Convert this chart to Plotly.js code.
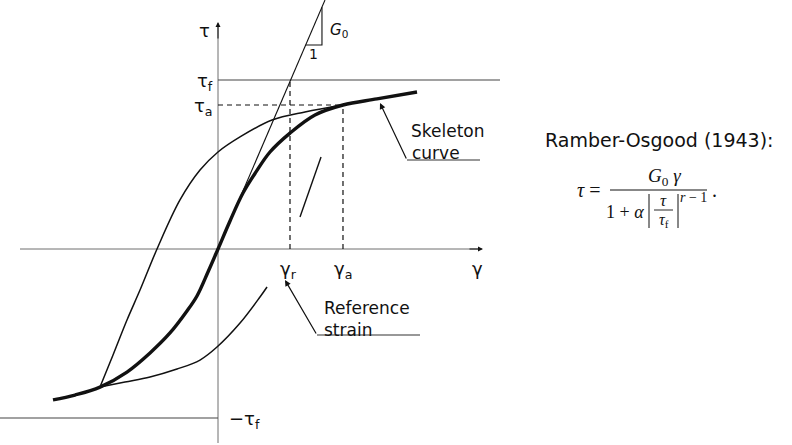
<!DOCTYPE html>
<html><head><meta charset="utf-8">
<script src="https://cdn.plot.ly/plotly-3.0.1.min.js"></script>
<style>html,body{margin:0;padding:0;background:#fff;}#chart{width:792px;height:445px;}</style>
</head><body><div id="chart"></div>
<script>
// Values in normalised units: strain in units of the reference strain, stress in units of tau_f
const gammaR = 1.0, gammaA = 1.736, tauF = 1.0, tauA = 0.852;

// Skeleton (backbone) curve
const skeletonGamma = [-2.292,-1.986,-1.639,-1.264,-0.944,-0.667,-0.431,-0.292,-0.139,0,0.167,0.347,0.528,0.722,1.0,1.347,1.736,2.208,2.764];
const skeletonTau   = [-0.893,-0.864,-0.817,-0.728,-0.615,-0.497,-0.367,-0.278,-0.136,0,0.166,0.331,0.456,0.574,0.686,0.793,0.852,0.888,0.929];

// Unloading branch (from gamma_a down to the negative tip)
const upperGamma = [1.736,1.208,0.75,0.306,0,-0.25,-0.528,-0.847,-1.083,-1.264,-1.458,-1.639];
const upperTau   = [0.852,0.811,0.763,0.663,0.574,0.467,0.290,0,-0.243,-0.420,-0.627,-0.817];

// Reloading branch (from the negative tip, drawn partially)
const lowerGamma = [-1.639,-1.292,-0.944,-0.569,-0.25,-0.014,0.306,0.583,0.681];
const lowerTau   = [-0.817,-0.787,-0.757,-0.710,-0.657,-0.580,-0.438,-0.284,-0.225];

// Initial tangent modulus G0 line and its slope triangle
const g0Gamma = [0, 1.486];
const g0Tau   = [0, 1.473];
const triGamma = [1.218, 1.444, 1.444];
const triTau   = [1.207, 1.207, 1.431];

// short direction stroke on reloading path
const strokeGamma = [1.139, 1.431];
const strokeTau   = [0.189, 0.544];

// pixel -> data helpers for layout placement
const W=792,H=445,X0=218,Y0=249,SX=72,SY=169;
const gx = px => (px-X0)/SX;
const ty = py => (Y0-py)/SY;
const xRange=[gx(0),gx(W)], yRange=[ty(H),ty(0)];

const BLK='#111', GRY='#6f6f6f';
function line(x,y,opt){return Object.assign({type:'scatter',mode:'lines',x:x,y:y,hoverinfo:'skip',
  line:{color:BLK,width:1.3}},opt||{});}

const traces = [
  // axes
  line([0,0],[ty(443),ty(26)],{line:{color:GRY,width:1}}),
  line([gx(20),gx(478)],[0,0],{line:{color:GRY,width:1}}),
  // tau_f and -tau_f lines
  line([0,gx(500)],[tauF,tauF],{line:{color:'#444',width:1.2}}),
  line([gx(0),0],[-tauF,-tauF],{line:{color:'#444',width:1.2}}),
  // dashed guides
  line([0,gammaA],[tauA,tauA],{line:{color:BLK,width:1.2,dash:'5px,4px'}}),
  line([gammaA,gammaA],[0,tauA],{line:{color:BLK,width:1.2,dash:'5px,4px'}}),
  line([gammaR,gammaR],[0,tauF],{line:{color:BLK,width:1.2,dash:'5px,4px'}}),
  // G0 line + triangle
  line(g0Gamma,g0Tau,{line:{color:BLK,width:1.1}}),
  line(triGamma,triTau,{line:{color:BLK,width:1.1}}),
  // branches
  line(upperGamma,upperTau,{line:{color:BLK,width:1.5,shape:'spline',smoothing:1}}),
  line(lowerGamma,lowerTau,{line:{color:BLK,width:1.5,shape:'spline',smoothing:1}}),
  line(skeletonGamma,skeletonTau,{line:{color:BLK,width:3.4,shape:'spline',smoothing:1}}),
  line(strokeGamma,strokeTau,{line:{color:BLK,width:1.4}}),
  // label underlines
  line([gx(407),gx(480)],[ty(160),ty(160)],{line:{color:'#333',width:1.2}}),
  line([gx(317),gx(420)],[ty(335),ty(335)],{line:{color:'#333',width:1.2}})
];

const SANS='DejaVu Sans', SERIF='Liberation Serif';
function lab(text,px,py,size,anchor,font,extra){
  return Object.assign({text:text,x:gx(px),y:ty(py),xref:'x',yref:'y',showarrow:false,borderpad:0,
    xanchor:anchor||'center',yanchor:'middle',font:{family:font||SANS,size:size||17,color:BLK}},extra||{});
}
function arrow(hx,hy,tx,tyy,w){
  return {x:gx(hx),y:ty(hy),ax:gx(tx),ay:ty(tyy),xref:'x',yref:'y',axref:'x',ayref:'y',text:'',
    showarrow:true,arrowhead:2,arrowsize:1,arrowwidth:w||1.1,arrowcolor:BLK,standoff:0,startstandoff:0};
}

const annotations = [
  arrow(218,22,218,40,1),
  arrow(483,249,468,249,1),
  arrow(380,103,407,160,1.2),
  arrow(285,280,317,335,1.2),
  lab('τ',204,30,18),
  lab('τ<sub>f</sub>',214,82,18,'right'),
  lab('τ<sub>a</sub>',214,107,18,'right'),
  lab('γ<sub>r</sub>',288,270,18),
  lab('γ<sub>a</sub>',343,270,18),
  lab('γ',477,268,18),
  lab('−τ<sub>f</sub>',228,420,18,'left'),
  lab('<i>G</i><sub>0</sub>',329,30,15,'left'),
  lab('1',313,54,14),
  lab('Skeleton',410,131,17,'left'),
  lab('curve',411,153,17,'left'),
  lab('Reference',323,308,17,'left'),
  lab('strain',323,330,17,'left'),
  lab('Ramber-Osgood (1943):',544,140,19,'left'),
  // formula
  lab('<i>τ</i> =',588,190,20,'center',SERIF),
  lab('<i>G</i><sub>0</sub> <i>γ</i>',664,177,19,'center',SERIF),
  lab('1 + <i>α</i>',645,212,18,'right',SERIF),
  lab('<i>τ</i>',663,200,17,'center',SERIF),
  lab('<i>τ</i><sub>f</sub>',664,220,16,'center',SERIF),
  lab('<i>r</i> − 1',693,197,14,'center',SERIF),
  lab('.',714,190,20,'center',SERIF)
];

const shapes = [
  {type:'line',xref:'x',yref:'y',x0:gx(610),x1:gx(707),y0:ty(190),y1:ty(190),line:{color:BLK,width:1}},
  {type:'line',xref:'x',yref:'y',x0:gx(654),x1:gx(673),y0:ty(210),y1:ty(210),line:{color:BLK,width:0.9}},
  {type:'line',xref:'x',yref:'y',x0:gx(649),x1:gx(649),y0:ty(194),y1:ty(228),line:{color:BLK,width:1}},
  {type:'line',xref:'x',yref:'y',x0:gx(678),x1:gx(678),y0:ty(194),y1:ty(228),line:{color:BLK,width:1}}
];

const layout = {
  width:W,height:H,margin:{l:0,r:0,t:0,b:0},showlegend:false,
  paper_bgcolor:'#fff',plot_bgcolor:'#fff',
  xaxis:{range:xRange,visible:false,fixedrange:true},
  yaxis:{range:yRange,visible:false,fixedrange:true},
  annotations:annotations,shapes:shapes
};
Plotly.newPlot('chart',traces,layout,{staticPlot:true,displayModeBar:false});
</script></body></html>
